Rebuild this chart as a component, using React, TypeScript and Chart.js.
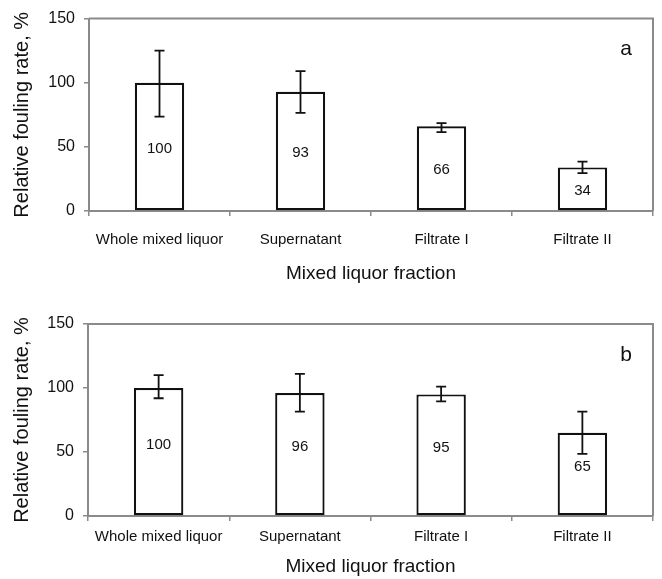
import React, { useEffect, useRef } from "react";
import { Chart, registerables } from "chart.js";

Chart.register(...registerables);

const categories = ["Whole mixed liquor", "Supernatant", "Filtrate I", "Filtrate II"];
const yTicks = [0, 50, 100, 150];

const valuesA = [100, 93, 66, 34];
const errHighA = [125, 109, 68.5, 38.5];
const errLowA = [73.5, 76.5, 61.5, 29.5];

const valuesB = [100, 96, 95, 65];
const errHighB = [110, 111, 101, 81.5];
const errLowB = [92, 81.5, 89.5, 48.5];

const yTitle = "Relative fouling rate, %";
const xTitle = "Mixed liquor fraction";

const AXIS = "#8a8a8a";
const TEXT = "#111111";
const FONT = "'Liberation Sans', Arial, sans-serif";

type PanelCfg = {
  values: number[];
  hi: number[];
  lo: number[];
  letter: string;
  height: number;
  padTop: number;
  yWidth: number;
  xHeight: number;
  tickPad: number;
  titlePadBottom: number;
  labelOffset: number;
};

const panelA: PanelCfg = {
  values: valuesA, hi: errHighA, lo: errLowA, letter: "a",
  height: 290, padTop: 16, yWidth: 89, xHeight: 79, tickPad: 15, titlePadBottom: 5, labelOffset: 2,
};
const panelB: PanelCfg = {
  values: valuesB, hi: errHighB, lo: errLowB, letter: "b",
  height: 289, padTop: 34, yWidth: 88, xHeight: 63, tickPad: 7, titlePadBottom: 1, labelOffset: -7,
};

function Panel({ cfg }: { cfg: PanelCfg }) {
  const ref = useRef<HTMLCanvasElement | null>(null);
  useEffect(() => {
    if (!ref.current) return;
    const extras = {
      id: "extras",
      afterDatasetsDraw(chart: any) {
        const ctx = chart.ctx;
        const area = chart.chartArea;
        const y = chart.scales.y;
        const meta = chart.getDatasetMeta(0);
        ctx.save();
        // frame (top & right)
        ctx.strokeStyle = AXIS;
        ctx.lineWidth = 2;
        ctx.beginPath();
        ctx.moveTo(area.left, area.top);
        ctx.lineTo(area.right, area.top);
        ctx.lineTo(area.right, area.bottom);
        ctx.stroke();
        // error bars
        ctx.strokeStyle = "#111";
        ctx.lineWidth = 1.8;
        meta.data.forEach((bar: any, i: number) => {
          const x = bar.x;
          const yh = y.getPixelForValue(cfg.hi[i]);
          const yl = y.getPixelForValue(cfg.lo[i]);
          ctx.beginPath();
          ctx.moveTo(x, yh);
          ctx.lineTo(x, yl);
          ctx.moveTo(x - 5, yh);
          ctx.lineTo(x + 5, yh);
          ctx.moveTo(x - 5, yl);
          ctx.lineTo(x + 5, yl);
          ctx.stroke();
        });
        // value labels
        ctx.fillStyle = TEXT;
        ctx.font = `15px ${FONT}`;
        ctx.textAlign = "center";
        ctx.textBaseline = "middle";
        meta.data.forEach((bar: any, i: number) => {
          const cy = (bar.y + bar.base) / 2 + cfg.labelOffset;
          ctx.fillText(String(cfg.values[i]), bar.x, cy);
        });
        // panel letter
        ctx.font = `21px ${FONT}`;
        ctx.fillText(cfg.letter, area.right - 27, area.top + 31);
        ctx.restore();
      },
    };
    const chart = new Chart(ref.current, {
      type: "bar",
      data: {
        labels: categories,
        datasets: [
          {
            data: cfg.values,
            backgroundColor: "#ffffff",
            borderColor: "#111111",
            borderWidth: 2.2,
            borderSkipped: false,
            barPercentage: 0.35,
            categoryPercentage: 1,
          },
        ],
      },
      options: {
        animation: false,
        responsive: true,
        maintainAspectRatio: false,
        layout: { padding: { top: cfg.padTop, right: 9, left: 0, bottom: 0 } },
        plugins: { legend: { display: false }, tooltip: { enabled: false }, title: { display: false } },
        scales: {
          x: {
            offset: true,
            grid: {
              offset: true,
              drawOnChartArea: false,
              drawTicks: true,
              tickLength: 5,
              color: AXIS,
              lineWidth: 1.5,
            },
            border: { color: AXIS, width: 2 },
            ticks: {
              color: TEXT,
              font: { family: FONT, size: 15 },
              padding: cfg.tickPad,
              maxRotation: 0,
              autoSkip: false,
            },
            title: {
              display: true,
              text: xTitle,
              color: TEXT,
              font: { family: FONT, size: 19 },
              padding: { top: 0, bottom: cfg.titlePadBottom },
            },
            afterFit(scale: any) {
              scale.height = cfg.xHeight;
            },
          },
          y: {
            min: 0,
            max: 150,
            afterBuildTicks(scale: any) {
              scale.ticks = yTicks.map((v) => ({ value: v }));
            },
            grid: {
              drawOnChartArea: false,
              drawTicks: true,
              tickLength: 5,
              color: AXIS,
              lineWidth: 1.5,
            },
            border: { color: AXIS, width: 2 },
            ticks: {
              color: TEXT,
              font: { family: FONT, size: 16 },
              padding: 9,
            },
            title: {
              display: true,
              text: yTitle,
              color: TEXT,
              font: { family: FONT, size: 20 },
              padding: { top: 10, bottom: 0 },
            },
            afterFit(scale: any) {
              scale.width = cfg.yWidth;
            },
          },
        },
      },
      plugins: [extras],
    });
    return () => chart.destroy();
  }, [cfg]);
  return (
    <div style={{ position: "relative", width: 662, height: cfg.height }}>
      <canvas ref={ref} />
    </div>
  );
}

export default function App() {
  return (
    <div style={{ position: "absolute", left: 0, top: 0, width: 662, height: 579, background: "#fff" }}>
      <Panel cfg={panelA} />
      <Panel cfg={panelB} />
    </div>
  );
}
